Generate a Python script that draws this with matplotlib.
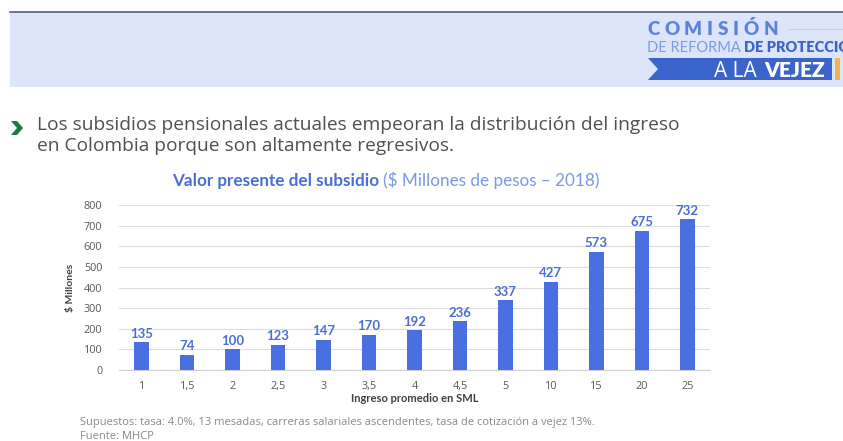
import numpy as np
import matplotlib
matplotlib.use("Agg")
from matplotlib import pyplot as plt
from matplotlib.patches import Rectangle, Polygon

# ingreso promedio (SML) and valor presente del subsidio ($ millones)
categories = ["1", "1,5", "2", "2,5", "3", "3,5", "4", "4,5", "5", "10", "15", "20", "25"]
subsidy = [135, 74, 100, 123, 147, 170, 192, 236, 337, 427, 573, 675, 732]
yticks = [0, 100, 200, 300, 400, 500, 600, 700, 800]

W, H = 843, 441
BAR = "#4a6fe0"
LABEL_BLUE = "#4a6fd6"
TICK_GRAY = "#595959"

fig = plt.figure(figsize=(W / 100, H / 100), dpi=100)
fig.patch.set_facecolor("white")


def px(x, y):
    # pixel coordinates (top-left origin) -> figure fraction
    return x / W, 1 - y / H


# header band
fig.patches.append(Rectangle(px(10, 87), (W - 10) / W, 75 / H, transform=fig.transFigure,
                             facecolor="#dce5fb", edgecolor="none", zorder=0))
fig.lines.append(plt.Line2D([10 / W, 1], [1 - 11.5 / H] * 2, transform=fig.transFigure,
                            color="#555e70", lw=1.2))

renderer = fig.canvas.get_renderer()


def spaced_text(x, y, s, spacing, **kw):
    # draw a word letter by letter with extra tracking
    for ch in s:
        t = fig.text(*px(x, y), ch, **kw)
        x += t.get_window_extent(renderer).width + spacing
    return x


end = spaced_text(647, 35, "COMISIÓN", 4.8, fontsize=13.5, fontweight="heavy",
                  color="#5b84d9", family="Lato", va="baseline")
fig.lines.append(plt.Line2D([(end + 6) / W, 1], [1 - 29 / H] * 2, transform=fig.transFigure,
                            color="#c9cfdc", lw=0.8))
t1 = fig.text(*px(647, 52), "DE REFORMA ", fontsize=10.5, color="#7b9be6",
              family="Lato", va="baseline")
w1 = t1.get_window_extent(renderer).width
# the logo runs past the right edge of the slide
fig.text(*px(647 + w1, 52), "DE PROTECCIÓN", fontsize=10.5, color="#3d64c8",
         family="Lato", fontweight="heavy", va="baseline")

# blue ribbon with notch
ribbon = [(648, 58), (832, 58), (832, 80), (648, 80), (658, 69)]
fig.patches.append(Polygon([px(*p) for p in ribbon], closed=True, transform=fig.transFigure,
                           facecolor="#3a64c9", edgecolor="none"))
fig.patches.append(Rectangle(px(835, 80), 5 / W, 22 / H, transform=fig.transFigure,
                             facecolor="#f0b44a", edgecolor="none"))
tv = fig.text(*px(825, 77), "VEJEZ", fontsize=15, color="white", family="Lato",
              fontweight="heavy", ha="right", va="baseline")
wv = tv.get_window_extent(renderer).width
fig.text(*px(825 - wv - 7, 77), "A LA", fontsize=15, color="white", family="Open Sans",
         ha="right", va="baseline")

# bullet chevron
chev = [(11, 121), (17, 121), (23, 128), (17, 135), (11, 135), (17, 128)]
fig.patches.append(Polygon([px(*p) for p in chev], closed=True, transform=fig.transFigure,
                           facecolor="#1a7a3a", edgecolor="none"))
fig.text(*px(37, 130), "Los subsidios pensionales actuales empeoran la distribución del ingreso",
         fontsize=13.8, color="#505050", family="Open Sans", va="baseline")
fig.text(*px(37, 151), "en Colombia porque son altamente regresivos.",
         fontsize=13.8, color="#505050", family="Open Sans", va="baseline")

# chart title in two styles
tt = fig.text(*px(172, 186), "Valor presente del subsidio ", fontsize=12.3, color="#4a6fd6",
              family="Lato", fontweight="bold", va="baseline")
wt = tt.get_window_extent(renderer).width
fig.text(*px(172 + wt, 186), "($ Millones de pesos – 2018)", fontsize=12.3, color="#7a98e6",
         family="Lato", va="baseline")

# bar chart
ax = fig.add_axes([119 / W, 71 / H, 591 / W, 165 / H])
x = np.arange(len(categories))
bars = ax.bar(x, subsidy, width=0.32, color=BAR, zorder=3)
for xi, v in zip(x, subsidy):
    ax.text(xi, v + 12, str(v), ha="center", va="bottom", fontsize=9.5,
            fontweight="bold", color=LABEL_BLUE, family="Lato")

ax.set_xlim(-0.5, len(categories) - 0.5)
ax.set_ylim(0, 800)
ax.set_yticks(yticks)
ax.set_xticks(x)
ax.set_xticklabels(categories)
ax.grid(axis="y", color="#dcdcdc", lw=0.8, zorder=0)
for s in ["top", "right", "left"]:
    ax.spines[s].set_visible(False)
ax.spines["bottom"].set_color("#d0d0d0")
ax.tick_params(axis="both", length=0, labelsize=7.8, labelcolor=TICK_GRAY, pad=8)
ax.tick_params(axis="y", pad=12)
for lab in ax.get_xticklabels() + ax.get_yticklabels():
    lab.set_family("Open Sans")
ax.set_xlabel("Ingreso promedio en SML", fontsize=8, fontweight="bold",
              color="#404040", family="Lato", labelpad=1)
ax.set_ylabel("$ Millones", fontsize=7.5, fontweight="bold", color="#404040",
              family="Lato", labelpad=6)

# footnotes
fig.text(*px(80, 425), "Supuestos: tasa: 4.0%, 13 mesadas, carreras salariales ascendentes, "
         "tasa de cotización a vejez 13%.", fontsize=8, color="#8a8a8a",
         family="Open Sans", va="baseline")
fig.text(*px(80, 439), "Fuente: MHCP", fontsize=8, color="#8a8a8a",
         family="Open Sans", va="baseline")

fig.savefig("out.png", dpi=100)
